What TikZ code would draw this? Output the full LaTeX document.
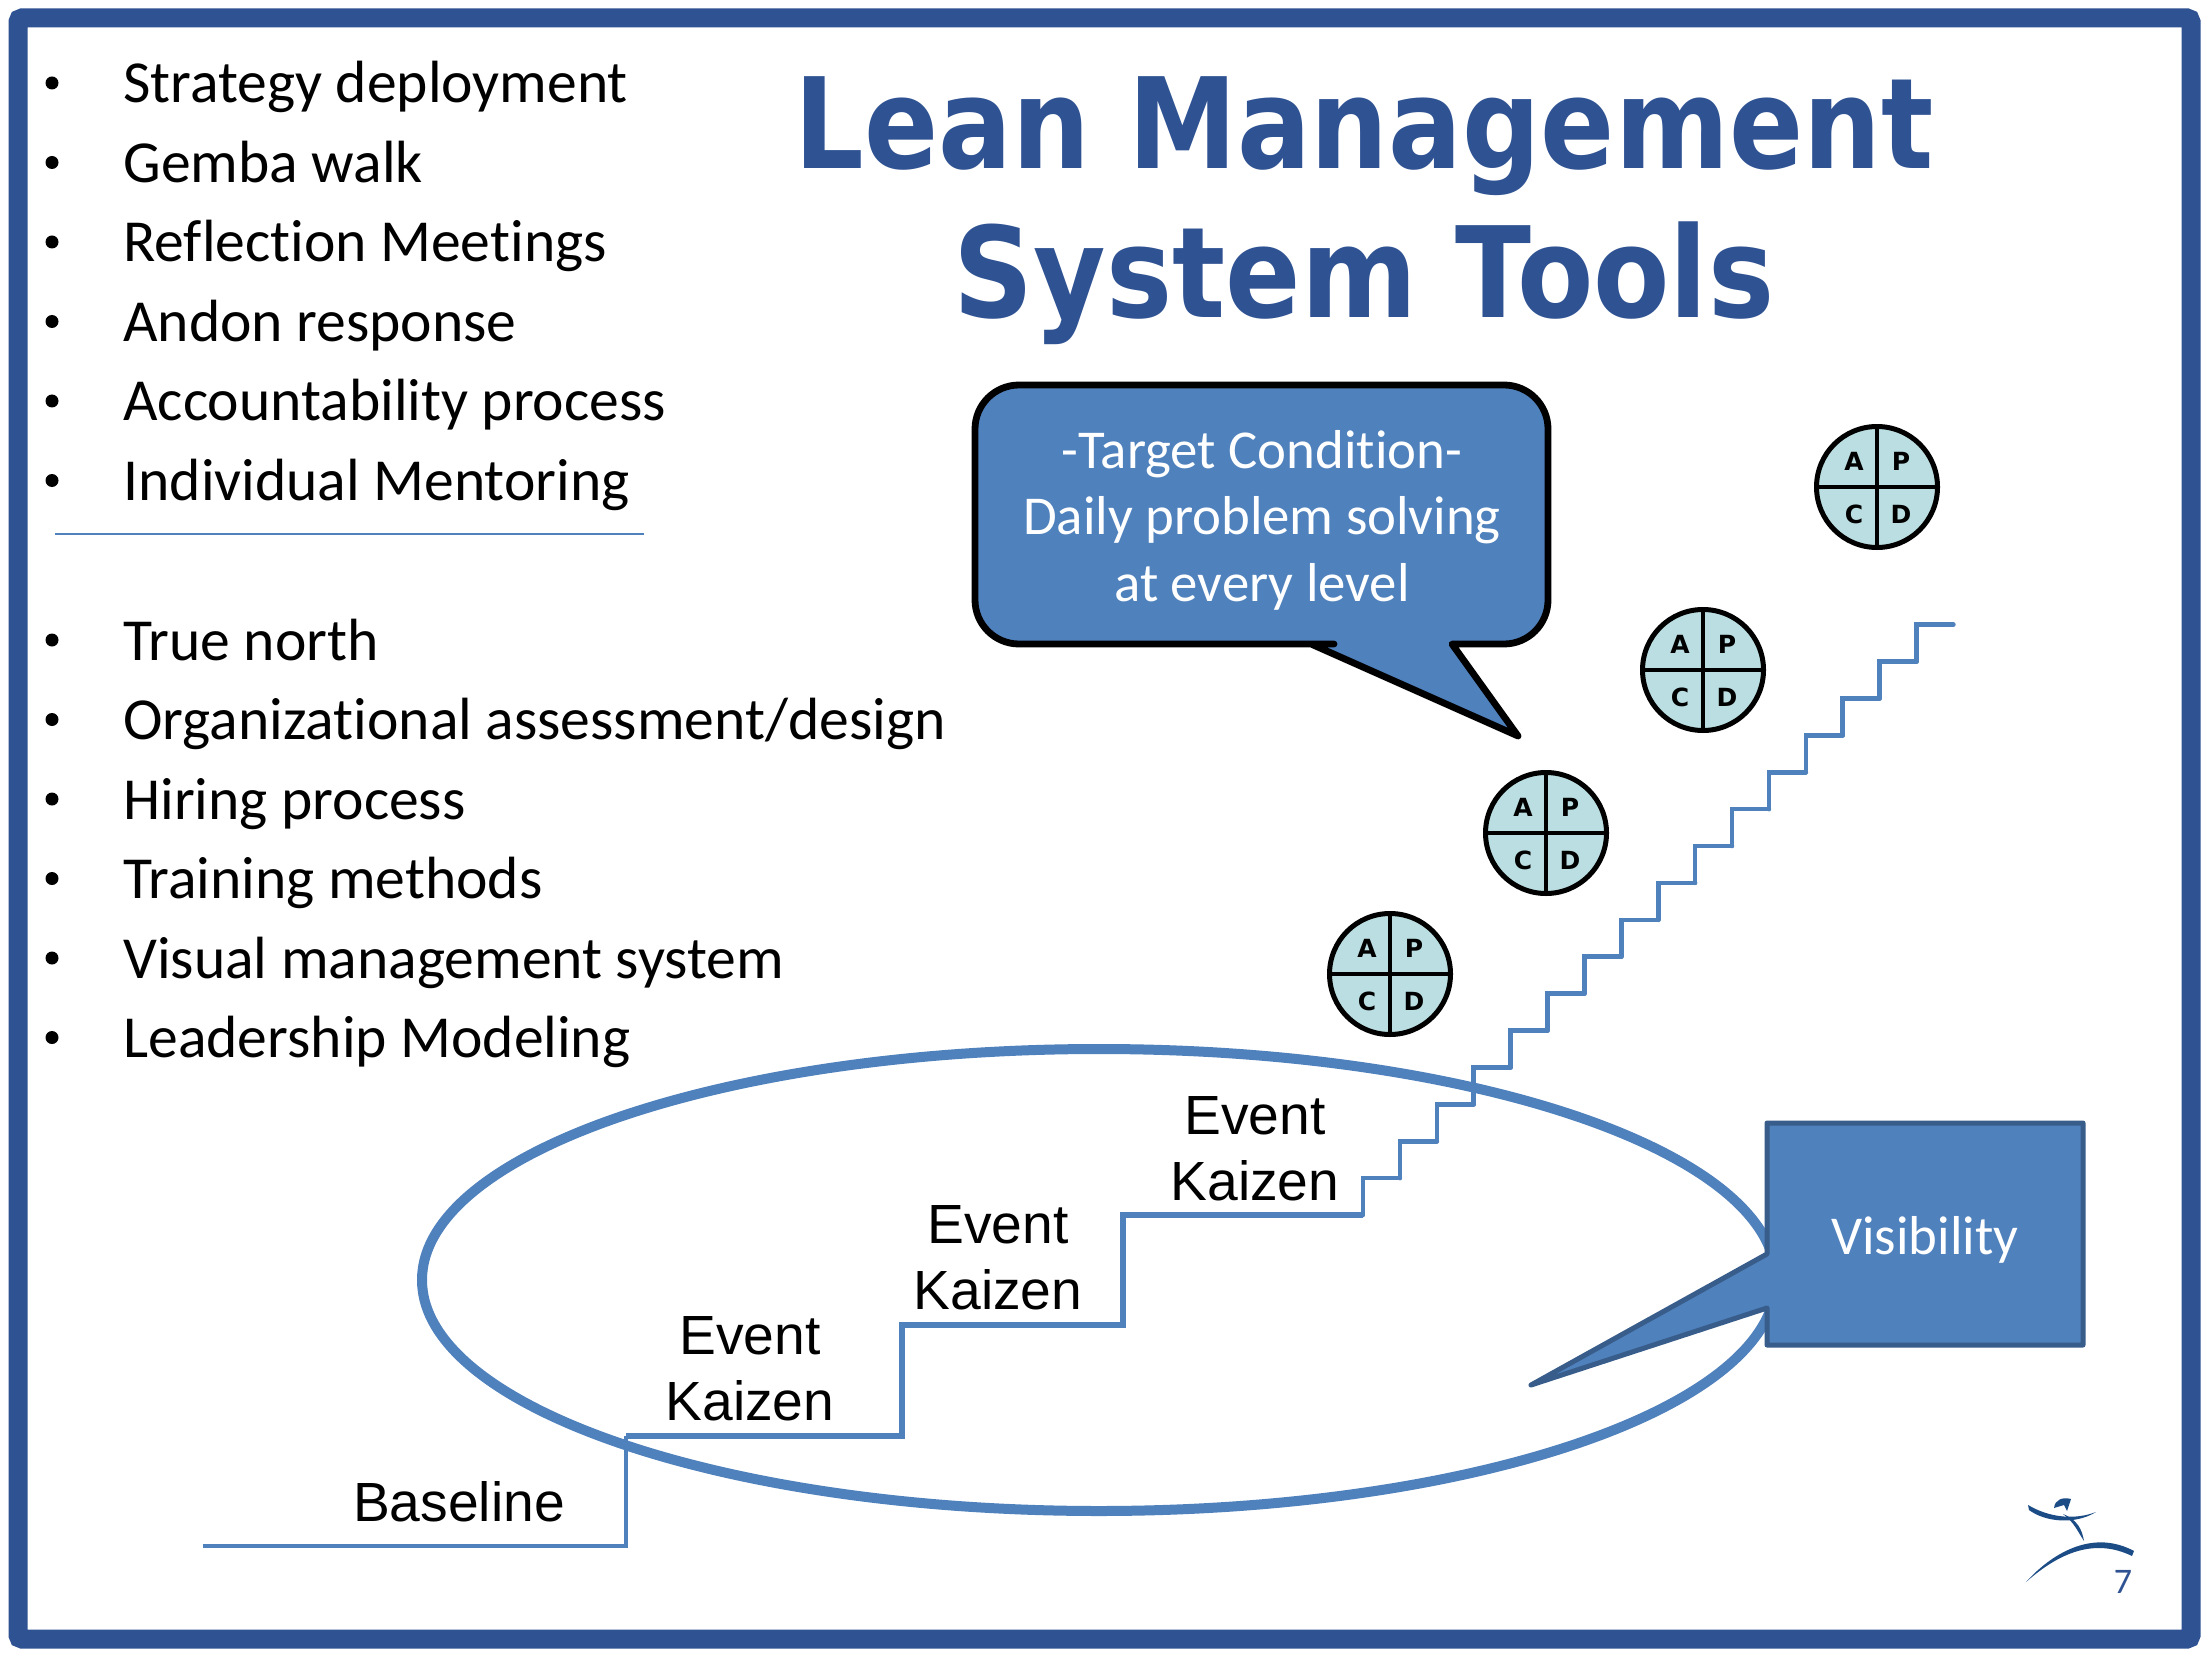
\documentclass[tikz,border=0pt]{standalone}
\usepackage{fontspec}
\setmainfont{Carlito}[Ligatures=NoCommon]
\newfontfamily\arialfont{Liberation Sans}
\newfontfamily\titlefont{DejaVu Sans}
\usepackage{xcolor}
\usetikzlibrary{arrows.meta,positioning,shapes.geometric,calc}
\definecolor{frameblue}{HTML}{2F5293}
\definecolor{shapeblue}{HTML}{4F81BD}
\definecolor{edgeblue}{HTML}{385D8A}
\definecolor{pdcateal}{HTML}{BADEE1}
\definecolor{logoblue}{HTML}{1C4C86}

\begin{document}
\begin{tikzpicture}[
  x=0.5pt, y=-0.5pt,
  listitem/.style={anchor=base west, inner sep=0pt, font=\fontsize{29.8}{32}\selectfont},
  dotitem/.style={anchor=center, inner sep=0pt, circle, fill=black, minimum size=6.5pt},
  steplabel/.style={anchor=center, inner sep=0pt, align=center, font=\arialfont\fontsize{27.6}{33}\selectfont},
  titleline/.style={anchor=base, inner sep=0pt, text=frameblue, font=\titlefont\bfseries\fontsize{63}{70}\selectfont},
  whitetext/.style={anchor=center, inner sep=0pt, align=center, text=white, font=\fontsize{27.4}{33.3}\selectfont},
  pdcacircle/.style={circle, draw=black, fill=pdcateal, line width=2.5pt, minimum size=60.5pt, inner sep=0pt},
  pdcaletter/.style={inner sep=0pt, font=\titlefont\bfseries\fontsize{12.5}{12.5}\selectfont}
]
\useasboundingbox (0,0) rectangle (2210,1658);
\fill[white] (0,0) rectangle (2210,1658);

% Outer frame
\draw[frameblue, line width=9.5pt, rounded corners=2pt] (18,18) rectangle (2191,1639);

% Title
\node[titleline] (titleone) at (1364,169) {\scalebox{0.868}[1]{Lean Management}};
\node[titleline] (titletwo) at (1364,318) {\scalebox{0.883}[1]{System Tools}};

% Upper list
\foreach \i/\txt in {0/Strategy deployment, 1/Gemba walk, 2/Reflection Meetings,
    3/Andon response, 4/Accountability process, 5/Individual Mentoring}{
  \node[dotitem] (updot\i) at (52,{83+79.5*\i}) {};
  \node[listitem] (upitem\i) at (123,{103+79.5*\i}) {\txt};
}
\draw[shapeblue, line width=1pt] (55,534) -- (644,534);

% Lower list
\foreach \i/\txt in {0/True north, 1/Organizational assessment\slash design, 2/Hiring process,
    3/Training methods, 4/Visual management system, 5/Leadership Modeling}{
  \node[dotitem] (lowdot\i) at (52,{640+79.5*\i}) {};
  \node[listitem] (lowitem\i) at (123,{660+79.5*\i}) {\txt};
}

% Ellipse around the event steps
\draw[shapeblue, line width=5pt] (1099,1280) ellipse [x radius=677, y radius=231];

% Big steps, then the small daily ones
\draw[shapeblue, line width=2.2pt] (203,1546) -- (626,1546) -- (626,1436);
\draw[shapeblue, line width=2.7pt] (626,1436) -- (902,1436)
  -- (902,1325) -- (1123,1325) -- (1123,1215) -- (1363,1215);
\foreach \s in {0,...,15}{
  \draw[shapeblue, line width=2.3pt, line cap=round]
    ({1363+36.9*\s},{1215-36.9*\s}) -- ({1363+36.9*\s},{1215-36.9*(\s+1)})
    -- ({1363+36.9*(\s+1)},{1215-36.9*(\s+1)});
}

% Step labels
\node[steplabel] (baseline) at (459,1502) {Baseline};
\node[steplabel] (eventone) at (750,1369) {Event\\Kaizen};
\node[steplabel] (eventtwo) at (998,1258) {Event\\Kaizen};
\node[steplabel] (eventthree) at (1255,1149) {Event\\Kaizen};

% Speech bubble
\filldraw[fill=shapeblue, draw=black, line width=3.4pt, line join=round]
  (1311,644) -- (1518,736) -- (1452,644) -- (1470,644) [rounded corners=22pt]
  -- (1548,644) -- (1548,385) -- (975,385) -- (975,644) -- (1290,644) [sharp corners] -- cycle;
\node[whitetext] (target) at (1262,520) {-Target Condition-\\Daily problem solving\\at every level};

% PDCA wheels
\foreach \i/\cx/\cy in {1/1390/974, 2/1546/833, 3/1703/670, 4/1877/487}{
  \node[pdcacircle] (pdca\i) at (\cx,\cy) {};
  \draw[black, line width=2.3pt] (pdca\i.north) -- (pdca\i.south);
  \draw[black, line width=2.3pt] (pdca\i.west) -- (pdca\i.east);
  \node[pdcaletter] (pdcaA\i) at ({\cx-23},{\cy-26}) {A};
  \node[pdcaletter] (pdcaP\i) at ({\cx+24},{\cy-26}) {P};
  \node[pdcaletter] (pdcaC\i) at ({\cx-23},{\cy+27}) {C};
  \node[pdcaletter] (pdcaD\i) at ({\cx+24},{\cy+27}) {D};
}

% Visibility callout
\filldraw[fill=shapeblue, draw=edgeblue, line width=2.5pt, line join=round]
  (1767,1123) -- (2083,1123) -- (2083,1345) -- (1767,1345) -- (1767,1308)
  -- (1531,1385) -- (1767,1254) -- cycle;
\node[whitetext] (visibility) at (1925,1240) {Visibility};

% Logo and page number
\fill[logoblue] (2028,1505) .. controls (2050,1518) and (2075,1520) .. (2096,1512)
  .. controls (2075,1525) and (2045,1522) .. (2029,1510) -- cycle;
\fill[logoblue] (2063,1514) .. controls (2078,1520) and (2082,1530) .. (2084,1541)
  .. controls (2078,1532) and (2074,1522) .. (2063,1514) -- cycle;
\fill[logoblue] (2054,1508) .. controls (2055,1499) and (2063,1497) .. (2071,1499)
  -- (2067,1511) -- (2064,1505) -- cycle;
\fill[logoblue] (2026,1582) .. controls (2055,1550) and (2095,1530) .. (2134,1551)
  -- (2132,1556) .. controls (2095,1538) and (2060,1552) .. (2026,1582) -- cycle;
\node[inner sep=0pt, text=frameblue, font=\fontsize{18}{18}\selectfont] (pagenum) at (2123,1582) {7};
\end{tikzpicture}
\end{document}
